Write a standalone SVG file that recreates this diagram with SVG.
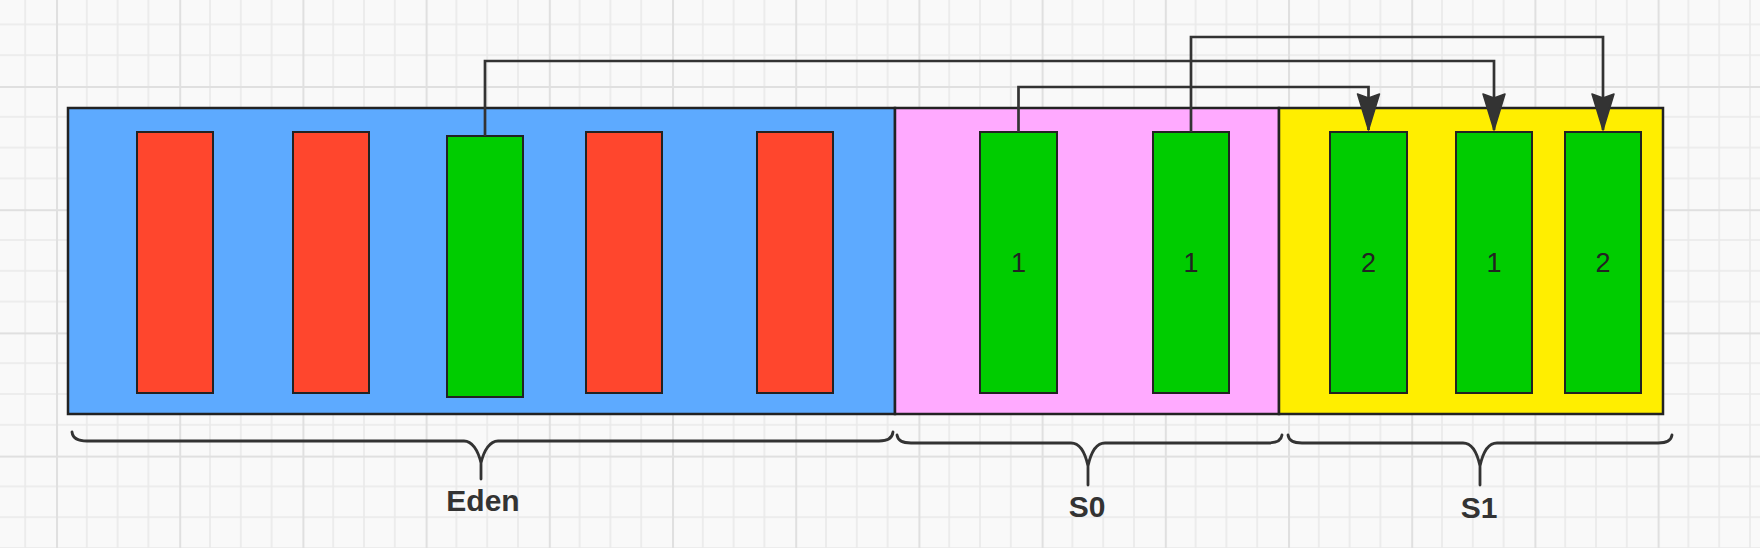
<svg xmlns="http://www.w3.org/2000/svg" width="1760" height="560" viewBox="0 0 1760 560">
  <style>
    .region { stroke: #222; stroke-width: 2.5; }
    .blk { stroke: #222; stroke-width: 2; }
    .red { fill: #FF462D; }
    .green { fill: #00CC00; }
    .num { font-family: "Liberation Sans", "DejaVu Sans", sans-serif; font-size: 27px; fill: #222; text-anchor: middle; }
    .lbl { font-family: "Liberation Sans", "DejaVu Sans", sans-serif; font-size: 30px; font-weight: bold; fill: #333; text-anchor: middle; }
    .conn { fill: none; stroke: #333; stroke-width: 2.7; }
    .brace { fill: none; stroke: #333; stroke-width: 2.8; stroke-linecap: round; stroke-linejoin: round; }
  </style>
  <defs>
    <pattern id="grid" x="56" y="86" width="123.2" height="123.2" patternUnits="userSpaceOnUse">
      <rect width="123.2" height="123.2" fill="#f9f9f9"/>
      <path d="M30.8 0V123.2M61.6 0V123.2M92.4 0V123.2M0 30.8H123.2M0 61.6H123.2M0 92.4H123.2" stroke="#e9e9e9" stroke-width="1.5" fill="none"/>
      <path d="M1 0V123.2M0 1H123.2" stroke="#e0e0e0" stroke-width="2" fill="none"/>
    </pattern>
    <marker id="arrow" markerUnits="userSpaceOnUse" markerWidth="38" markerHeight="26" viewBox="0 0 38 26" refX="37" refY="13" orient="auto" overflow="visible">
      <path d="M1 2L37 13L1 24L5 13Z" fill="#333" stroke="#333" stroke-width="1.5" stroke-linejoin="round"/>
    </marker>
  </defs>

  <rect width="1760" height="560" fill="#ffffff"/>
  <rect width="1760" height="548" fill="url(#grid)"/>

  <g id="eden">
    <rect class="region" x="68" y="108" width="827" height="306" fill="#5DAAFF"/>
    <rect class="blk red" x="137" y="132" width="76" height="261"/>
    <rect class="blk red" x="293" y="132" width="76" height="261"/>
    <rect class="blk green" x="447" y="136" width="76" height="261"/>
    <rect class="blk red" x="586" y="132" width="76" height="261"/>
    <rect class="blk red" x="757" y="132" width="76" height="261"/>
  </g>

  <g id="s0">
    <rect class="region" x="895" y="108" width="384" height="306" fill="#FFAAFF"/>
    <rect class="blk green" x="980" y="132" width="77" height="261"/>
    <text class="num" x="1018.5" y="272">1</text>
    <rect class="blk green" x="1153" y="132" width="76" height="261"/>
    <text class="num" x="1191" y="272">1</text>
  </g>

  <g id="s1">
    <rect class="region" x="1279" y="108" width="384" height="306" fill="#FFEE00"/>
    <rect class="blk green" x="1330" y="132" width="77" height="261"/>
    <text class="num" x="1368.5" y="272">2</text>
    <rect class="blk green" x="1456" y="132" width="76" height="261"/>
    <text class="num" x="1494" y="272">1</text>
    <rect class="blk green" x="1565" y="132" width="76" height="261"/>
    <text class="num" x="1603" y="272">2</text>
  </g>

  <g id="connectors">
    <path class="conn" d="M485 136V61H1494V130" marker-end="url(#arrow)"/>
    <path class="conn" d="M1018.5 132V87H1368.5V130" marker-end="url(#arrow)"/>
    <path class="conn" d="M1191 132V37H1603V130" marker-end="url(#arrow)"/>
  </g>

  <g id="brace-eden">
    <path class="brace" d="M72 432Q73 441 87 441H464C472 441 478 450 481 463V479M481 463C484 450 490 441 498 441H879Q892 441 893 432"/>
    <text class="lbl" x="483" y="511">Eden</text>
  </g>
  <g id="brace-s0">
    <path class="brace" d="M897 435Q898 443 911 443H1071C1079 443 1085 452 1088 466V485M1088 466C1091 452 1097 443 1105 443H1268Q1281 443 1282 435"/>
    <text class="lbl" x="1087" y="517">S0</text>
  </g>
  <g id="brace-s1">
    <path class="brace" d="M1288 435Q1289 443 1302 443H1463C1471 443 1477 452 1480 466V485M1480 466C1483 452 1489 443 1497 443H1658Q1671 443 1672 435"/>
    <text class="lbl" x="1479" y="518">S1</text>
  </g>
</svg>
